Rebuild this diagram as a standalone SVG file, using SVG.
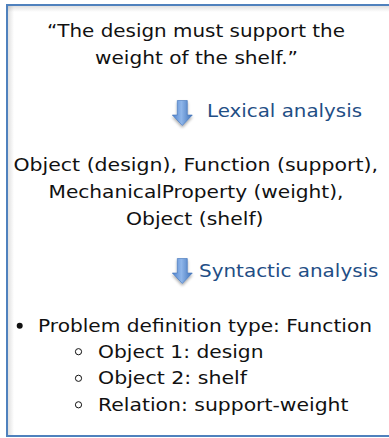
<svg xmlns="http://www.w3.org/2000/svg" width="389" height="438" viewBox="0 0 389 438">
<style>
.t{font-family:"DejaVu Sans","Verdana",sans-serif;font-size:18.5px;fill:#111;}
.b{fill:#1F4E85;}
.o{fill:none;stroke:#111;stroke-width:1;}
</style>
<defs>
<linearGradient id="ag" x1="0" y1="0" x2="1" y2="0">
<stop offset="0" stop-color="#4F83CC"/>
<stop offset="0.45" stop-color="#8FB6EA"/>
<stop offset="1" stop-color="#3F72B8"/>
</linearGradient>
<linearGradient id="st" x1="0" y1="0" x2="0" y2="1">
<stop offset="0" stop-color="#000" stop-opacity="0.12"/>
<stop offset="1" stop-color="#000" stop-opacity="0"/>
</linearGradient>
<linearGradient id="sl" x1="0" y1="0" x2="1" y2="0">
<stop offset="0" stop-color="#000" stop-opacity="0.12"/>
<stop offset="1" stop-color="#000" stop-opacity="0"/>
</linearGradient>
<filter id="sh" x="-50%" y="-50%" width="200%" height="200%">
<feGaussianBlur in="SourceAlpha" stdDeviation="1.5"/>
<feOffset dy="2" result="o"/>
<feComponentTransfer><feFuncA type="linear" slope="0.35"/></feComponentTransfer>
<feMerge><feMergeNode/><feMergeNode in="SourceGraphic"/></feMerge>
</filter>
<path id="arr" d="M-5,0 H5 V14.5 H10 L0,25 L-10,14.5 H-5 Z" fill="url(#ag)" stroke="#3F72B8" stroke-width="0.6"/>
</defs>
<rect width="389" height="438" fill="#fff"/>
<g id="frame">
<rect x="8" y="6" width="390" height="6" fill="url(#st)"/>
<rect x="8" y="6" width="6" height="430" fill="url(#sl)"/>
<rect x="7" y="5" width="392" height="431" fill="none" stroke="#4F81BD" stroke-width="2"/>
</g>
<g id="sentence">
<text class="t" x="47" y="37" textLength="298" lengthAdjust="spacingAndGlyphs">“The design must support the</text>
<text class="t" x="95" y="63.5" textLength="203" lengthAdjust="spacingAndGlyphs">weight of the shelf.”</text>
</g>
<g id="connectors">
<use href="#arr" x="182.3" y="100.5" filter="url(#sh)"/>
<use href="#arr" x="182.3" y="258.5" filter="url(#sh)"/>
</g>
<g id="lexical-label">
<text class="t b" x="207" y="117" textLength="155" lengthAdjust="spacingAndGlyphs">Lexical analysis</text>
</g>
<g id="lexical-result">
<text class="t" x="13.5" y="171" textLength="364.5" lengthAdjust="spacingAndGlyphs">Object (design), Function (support),</text>
<text class="t" x="48.5" y="198" textLength="295" lengthAdjust="spacingAndGlyphs">MechanicalProperty (weight),</text>
<text class="t" x="126" y="225" textLength="137.5" lengthAdjust="spacingAndGlyphs">Object (shelf)</text>
</g>
<g id="syntactic-label">
<text class="t b" x="199" y="277" textLength="179.5" lengthAdjust="spacingAndGlyphs">Syntactic analysis</text>
</g>
<g id="syntactic-result">
<circle cx="19.7" cy="325.7" r="3" fill="#111"/>
<text class="t" x="38" y="332" textLength="334" lengthAdjust="spacingAndGlyphs">Problem definition type: Function</text>
<circle class="o" cx="78.5" cy="351.7" r="3.1"/>
<text class="t" x="98" y="357.5" textLength="165.5" lengthAdjust="spacingAndGlyphs">Object 1: design</text>
<circle class="o" cx="78.5" cy="378.3" r="3.1"/>
<text class="t" x="98" y="384" textLength="149" lengthAdjust="spacingAndGlyphs">Object 2: shelf</text>
<circle class="o" cx="78.5" cy="404.8" r="3.1"/>
<text class="t" x="98" y="410.5" textLength="250.5" lengthAdjust="spacingAndGlyphs">Relation: support-weight</text>
</g>
</svg>
